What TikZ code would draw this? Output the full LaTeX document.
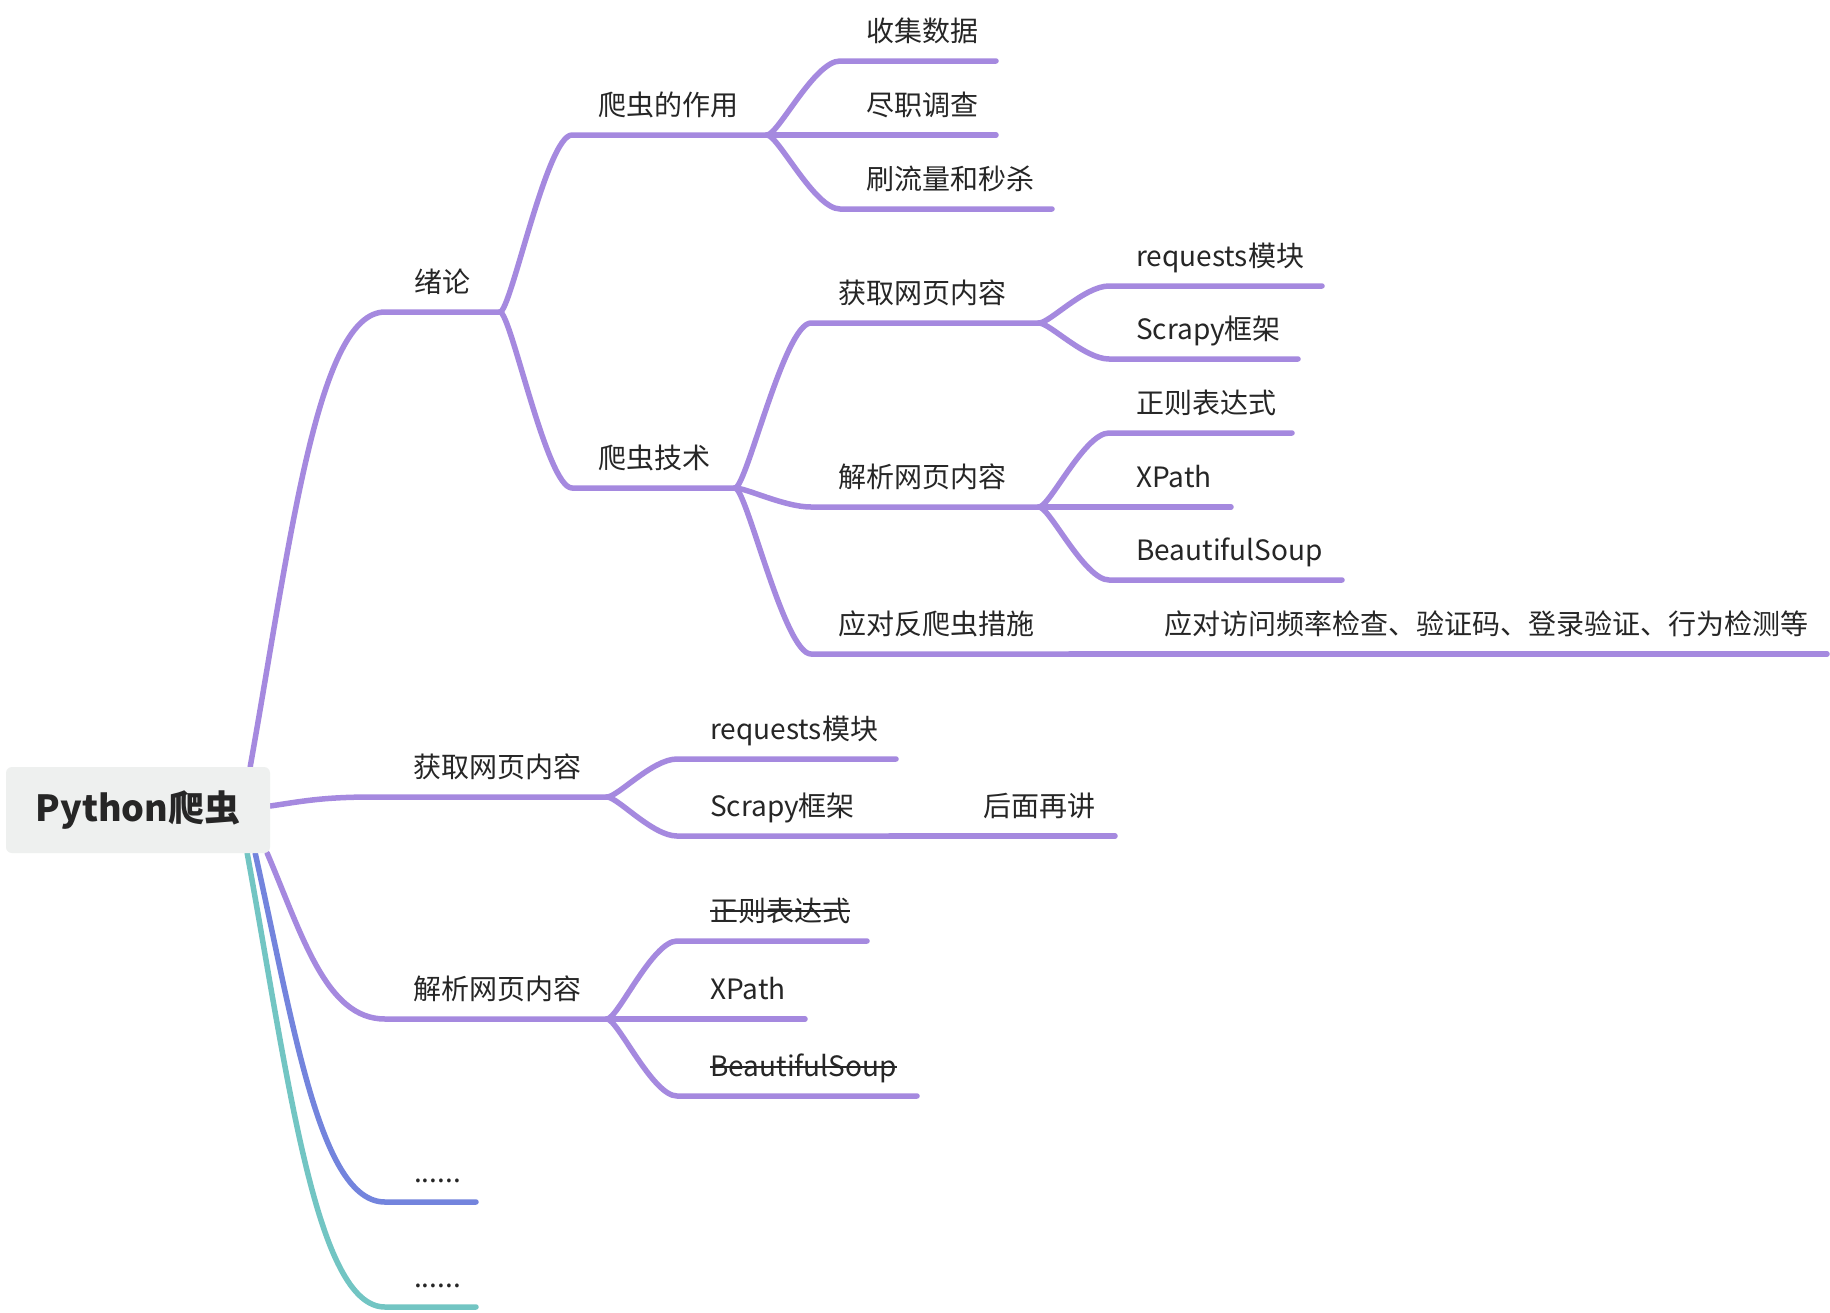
\documentclass[tikz,border=0pt]{standalone}
\usepackage{fontspec}
\setmainfont{Noto Sans CJK SC}
\usetikzlibrary{calc}
\pgfdeclarelayer{bg}
\pgfsetlayers{bg,main}
\definecolor{pur}{RGB}{165,137,223}
\definecolor{blu}{RGB}{115,132,221}
\definecolor{tea}{RGB}{114,197,195}
\definecolor{txt}{RGB}{38,38,38}
\definecolor{rootfill}{RGB}{238,240,239}
% name, label x, line y, line start x, line end x, text
\newcommand\mtopic[6]{%
  \coordinate (#1-s) at (#4,#3);
  \coordinate (#1-e) at (#5,#3);
  \node[lbl] (#1) at ({#2},{#3-20}) {#6};
}
\begin{document}
\begin{tikzpicture}[x=1pt,y=-1pt,
  lbl/.style={inner sep=0pt, anchor=base west, text=txt, font=\fontsize{28}{34}\selectfont},
  rootbox/.style={fill=rootfill, rounded corners=6pt, minimum width=264pt, minimum height=86pt,
    inner sep=0pt, text=txt, font=\bfseries\fontsize{36}{42}\selectfont},
  conn/.style={line width=5.5pt, line cap=round, line join=round},
  strike/.style={line width=1.8pt, draw=txt},
  branch/.style={to path={let \p1=(\tikztostart), \p2=(\tikztotarget) in
    .. controls ({\x1+0.3*(\x2-\x1)},{\y1+0.5*(\y2-\y1)}) and ({\x1+0.5*(\x2-\x1)},{\y2}) .. (\tikztotarget)}},
  subbranch/.style={to path={let \p1=(\tikztostart), \p2=(\tikztotarget) in
    .. controls ({\x1+0.15*(\x2-\x1)},{\y1}) and ({\x1+0.65*(\x2-\x1)},{\y2}) .. (\tikztotarget)}}
]
\useasboundingbox (0,0) rectangle (1830,1312);

\node[rootbox] (root) at (138,810) {Python爬虫};

% level 1 and below
\mtopic{t1}{414}{312}{385}{500}{绪论}
\mtopic{t11}{598}{135}{572}{767}{爬虫的作用}
\mtopic{t111}{866}{61}{840}{996}{收集数据}
\mtopic{t112}{866}{135}{840}{996}{尽职调查}
\mtopic{t113}{866}{209}{840}{1052}{刷流量和秒杀}
\mtopic{t12}{598}{488}{572}{735}{爬虫技术}
\mtopic{t121}{838}{323}{811}{1039}{获取网页内容}
\mtopic{t1211}{1136}{286}{1109}{1322}{requests模块}
\mtopic{t1212}{1136}{359}{1109}{1298}{Scrapy框架}
\mtopic{t122}{838}{507}{811}{1039}{解析网页内容}
\mtopic{t1221}{1136}{433}{1109}{1292}{正则表达式}
\mtopic{t1222}{1136}{507}{1109}{1231}{XPath}
\mtopic{t1223}{1136}{580}{1109}{1342}{BeautifulSoup}
\mtopic{t123}{838}{654}{811}{1070}{应对反爬虫措施}
\mtopic{t1231}{1164}{654}{1130}{1827}{应对访问频率检查、验证码、登录验证、行为检测等}
\mtopic{t2}{413}{797}{373}{607}{获取网页内容}
\mtopic{t21}{710}{759}{677}{896}{requests模块}
\mtopic{t22}{710}{836}{677}{890}{Scrapy框架}
\mtopic{t221}{983}{836}{950}{1115}{后面再讲}
\mtopic{t3}{413}{1019}{385}{607}{解析网页内容}
\mtopic{t31}{710}{941}{677}{867}{正则表达式}
\mtopic{t32}{710}{1019}{677}{805}{XPath}
\mtopic{t33}{710}{1096}{677}{917}{BeautifulSoup}
\mtopic{t4}{414}{1202}{385}{476}{......}
\mtopic{t5}{414}{1307}{385}{476}{......}

% strike-through texts
\draw[strike] ([yshift=10pt]t31.base west) -- ([yshift=10pt]t31.base east);
\draw[strike] ([yshift=9pt]t33.base west) -- ([yshift=9pt]t33.base east);

\begin{pgfonlayer}{bg}
\fill[white] (0,0) rectangle (1830,1312);
\draw[conn, draw=pur] ([xshift=-20pt]root.north east) to[branch] (t1-s) -- (t1-e);
\draw[conn, draw=pur] ([yshift=4pt]root.east) to[branch] (t2-s) -- (t2-e);
\draw[conn, draw=pur] ([xshift=-3pt]root.south east) to[branch] (t3-s) -- (t3-e);
\draw[conn, draw=tea] ([xshift=-23pt]root.south east) to[branch] (t5-s) -- (t5-e);
\draw[conn, draw=blu] ([xshift=-15pt]root.south east) to[branch] (t4-s) -- (t4-e);

\draw[conn, draw=pur] (t1-e) to[subbranch] (t11-s) -- (t11-e);
\draw[conn, draw=pur] (t1-e) to[subbranch] (t12-s) -- (t12-e);
\draw[conn, draw=pur] (t11-e) to[subbranch] (t111-s) -- (t111-e);
\draw[conn, draw=pur] (t11-e) -- (t112-s) -- (t112-e);
\draw[conn, draw=pur] (t11-e) to[subbranch] (t113-s) -- (t113-e);
\draw[conn, draw=pur] (t12-e) to[subbranch] (t121-s) -- (t121-e);
\draw[conn, draw=pur] (t12-e) to[subbranch] (t122-s) -- (t122-e);
\draw[conn, draw=pur] (t12-e) to[subbranch] (t123-s) -- (t123-e);
\draw[conn, draw=pur] (t121-e) to[subbranch] (t1211-s) -- (t1211-e);
\draw[conn, draw=pur] (t121-e) to[subbranch] (t1212-s) -- (t1212-e);
\draw[conn, draw=pur] (t122-e) to[subbranch] (t1221-s) -- (t1221-e);
\draw[conn, draw=pur] (t122-e) -- (t1222-s) -- (t1222-e);
\draw[conn, draw=pur] (t122-e) to[subbranch] (t1223-s) -- (t1223-e);
\draw[conn, draw=pur] (t123-e) -- (t1231-s) -- (t1231-e);
\draw[conn, draw=pur] (t2-e) to[subbranch] (t21-s) -- (t21-e);
\draw[conn, draw=pur] (t2-e) to[subbranch] (t22-s) -- (t22-e);
\draw[conn, draw=pur] (t22-e) -- (t221-s) -- (t221-e);
\draw[conn, draw=pur] (t3-e) to[subbranch] (t31-s) -- (t31-e);
\draw[conn, draw=pur] (t3-e) -- (t32-s) -- (t32-e);
\draw[conn, draw=pur] (t3-e) to[subbranch] (t33-s) -- (t33-e);
\end{pgfonlayer}
\end{tikzpicture}
\end{document}
